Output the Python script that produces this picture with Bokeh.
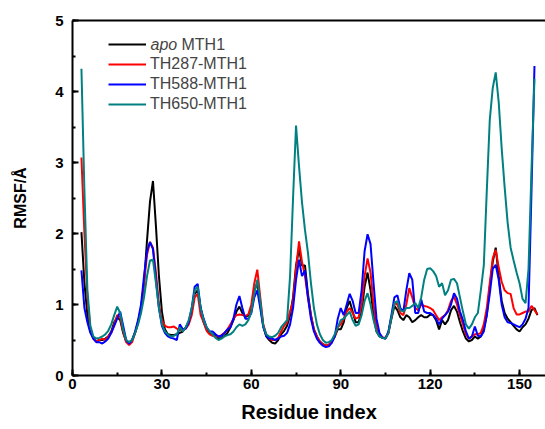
from bokeh.plotting import figure
from bokeh.models import (Range1d, SingleIntervalTicker, LinearAxis, FixedTicker,
                          Legend, LegendItem, Label)
from bokeh.embed import file_html
from bokeh.resources import INLINE

FONT = "Liberation Sans"

# ---------------- data ----------------
res_kr = list(range(3, 157))   # residues for apo and TH287
res_bt = list(range(3, 156))   # residues for TH588 and TH650

apo = [2.02, 1.3, 0.85, 0.62, 0.52, 0.48, 0.5, 0.5, 0.52, 0.55, 0.62, 0.75, 0.82, 0.78, 0.6,
       0.48, 0.46, 0.5, 0.6, 0.75, 0.95, 1.3, 1.9, 2.45, 2.74, 2.1, 1.4, 0.9, 0.65, 0.58,
       0.57, 0.57, 0.58, 0.6, 0.62, 0.68, 0.75, 0.9, 1.15, 1.2, 0.95, 0.75, 0.65, 0.6, 0.58,
       0.56, 0.52, 0.53, 0.56, 0.6, 0.68, 0.78, 0.9, 0.97, 0.88, 0.82, 0.85, 0.95, 1.2, 1.3,
       1.0, 0.7, 0.55, 0.5, 0.46, 0.45, 0.5, 0.58, 0.63, 0.7, 0.85, 1.1, 1.55, 1.78, 1.55,
       1.55, 1.15, 0.85, 0.65, 0.55, 0.48, 0.44, 0.42, 0.43, 0.48, 0.55, 0.65, 0.65, 0.75, 0.95,
       1.05, 0.9, 0.75, 0.75, 0.9, 1.25, 1.45, 1.2, 0.85, 0.62, 0.55, 0.53, 0.52, 0.6, 0.8,
       0.98, 0.92, 0.82, 0.78, 0.85, 0.82, 0.75, 0.78, 0.82, 0.85, 0.82, 0.82, 0.86, 0.85, 0.78,
       0.65, 0.78, 0.72, 0.78, 0.92, 0.98, 0.9, 0.75, 0.62, 0.52, 0.48, 0.5, 0.55, 0.52, 0.55,
       0.65, 0.85, 1.25, 1.6, 1.8, 1.4, 1.05, 0.88, 0.8, 0.75, 0.7, 0.65, 0.62, 0.68, 0.72,
       0.8, 0.92, 0.95, 0.85]

th287 = [3.07, 2.0, 1.1, 0.65, 0.52, 0.48, 0.5, 0.52, 0.5, 0.55, 0.6, 0.72, 0.85, 0.82, 0.62,
         0.47, 0.43, 0.47, 0.6, 0.75, 0.95, 1.3, 1.7, 1.88, 1.8, 1.45, 1.0, 0.78, 0.7, 0.68,
         0.68, 0.69, 0.66, 0.64, 0.64, 0.66, 0.72, 0.85, 1.1, 1.15, 0.85, 0.75, 0.63, 0.58, 0.56,
         0.55, 0.55, 0.57, 0.6, 0.65, 0.72, 0.8, 0.85, 0.86, 0.85, 0.84, 0.86, 1.0, 1.3, 1.49,
         1.1, 0.72, 0.58, 0.52, 0.5, 0.5, 0.53, 0.62, 0.7, 0.75, 0.9, 1.05, 1.5, 1.89, 1.6,
         1.4, 1.1, 0.85, 0.65, 0.55, 0.48, 0.44, 0.42, 0.43, 0.48, 0.55, 0.68, 0.72, 0.8, 0.9,
         0.95, 0.88, 0.8, 0.82, 1.0, 1.4, 1.65, 1.45, 1.0, 0.68, 0.58, 0.54, 0.53, 0.6, 0.82,
         1.02, 1.0, 0.88, 0.85, 1.0, 1.23, 1.1, 0.95, 0.92, 1.0, 0.98, 0.97, 0.95, 0.92, 0.85,
         0.78, 0.82, 0.85, 0.92, 1.05, 1.11, 1.0, 0.85, 0.72, 0.58, 0.52, 0.55, 0.58, 0.58, 0.6,
         0.72, 0.95, 1.3, 1.65, 1.77, 1.52, 1.32, 1.2, 1.16, 1.15, 0.95, 0.86, 0.86, 0.88, 0.9,
         0.9, 0.98, 0.92, 0.86]

th588 = [1.48, 0.95, 0.75, 0.6, 0.52, 0.47, 0.47, 0.45, 0.48, 0.52, 0.6, 0.7, 0.8, 0.9, 0.7,
         0.5, 0.45, 0.5, 0.62, 0.78, 1.0, 1.4, 1.75, 1.88, 1.78, 1.35, 0.95, 0.7, 0.6, 0.55,
         0.53, 0.52, 0.5, 0.72, 0.65, 0.66, 0.75, 0.95, 1.25, 1.29, 0.95, 0.8, 0.68, 0.62, 0.62,
         0.58, 0.55, 0.56, 0.6, 0.65, 0.68, 0.8, 1.0, 1.12, 0.95, 0.8, 0.8, 0.88, 1.1, 1.2,
         0.95, 0.68, 0.56, 0.52, 0.52, 0.5, 0.52, 0.55, 0.56, 0.6, 0.72, 0.95, 1.35, 1.63, 1.4,
         1.48, 1.1, 0.8, 0.62, 0.52, 0.46, 0.42, 0.4, 0.41, 0.46, 0.55, 0.8, 0.95, 0.85, 1.0,
         1.15, 1.05, 0.88, 0.88, 1.2, 1.75, 1.99, 1.85, 1.3, 0.8, 0.6, 0.53, 0.52, 0.62, 0.85,
         1.1, 1.13, 0.95, 0.9, 1.2, 1.44, 1.35, 0.88, 0.88, 1.07, 0.9, 0.88, 0.88, 0.85, 0.8,
         0.72, 0.8, 0.85, 0.9, 1.0, 1.16, 1.08, 0.9, 0.78, 0.62, 0.52, 0.55, 0.69, 0.56, 0.55,
         0.62, 0.85, 1.15, 1.5, 1.56, 1.35, 1.0, 0.82, 0.75, 0.74, 0.72, 0.7, 0.68, 0.72, 0.8,
         0.95, 2.6, 4.36]

th650 = [4.32, 2.6, 1.2, 0.7, 0.55, 0.52, 0.53, 0.55, 0.58, 0.63, 0.72, 0.85, 0.97, 0.88, 0.65,
         0.5, 0.47, 0.5, 0.6, 0.72, 0.88, 1.1, 1.4, 1.62, 1.63, 1.3, 0.95, 0.72, 0.62, 0.58,
         0.55, 0.56, 0.58, 0.68, 0.62, 0.68, 0.78, 0.95, 1.2, 1.25, 0.95, 0.78, 0.68, 0.62, 0.58,
         0.53, 0.5, 0.52, 0.55, 0.57, 0.58, 0.62, 0.68, 0.72, 0.7, 0.72, 0.78, 0.9, 1.15, 1.35,
         1.05, 0.7, 0.58, 0.55, 0.54, 0.56, 0.6, 0.68, 0.73, 0.78, 1.4, 2.5, 3.52, 2.95, 2.44,
         2.05, 1.73, 1.3, 0.95, 0.72, 0.58, 0.5, 0.46, 0.47, 0.5, 0.58, 0.68, 0.78, 0.8, 0.85,
         0.9, 0.78, 0.7, 0.72, 0.85, 1.05, 1.16, 1.0, 0.78, 0.62, 0.55, 0.53, 0.52, 0.6, 0.82,
         1.02, 1.05, 0.92, 0.9, 0.95, 0.95, 0.98, 1.02, 0.95, 1.1, 1.35, 1.5, 1.51, 1.47, 1.4,
         1.25, 1.3, 1.13, 1.2, 1.35, 1.36, 1.3, 1.1, 0.9, 0.72, 0.66, 0.72, 0.82, 0.88, 1.2,
         1.55, 2.6, 3.6, 4.05, 4.27, 3.85, 3.2, 2.65, 2.15, 1.8, 1.62, 1.45, 1.3, 1.08, 1.02,
         1.5, 2.9, 4.18]

series_names = ["apo MTH1", "TH287-MTH1", "TH588-MTH1", "TH650-MTH1"]
series_colors = ["#000000", "#ff0000", "#0000ff", "#008080"]
x_ticks_interval = 30
y_ticks_interval = 1

# ---------------- figure ----------------
p = figure(frame_width=473, frame_height=355,
           x_range=Range1d(0, 158.7), y_range=Range1d(0, 5),
           output_backend="svg", toolbar_location=None,
           min_border_left=72, min_border_right=0, min_border_top=20, min_border_bottom=0)
p.outline_line_color = None
p.xgrid.visible = False
p.ygrid.visible = False
p.background_fill_color = "white"

p.xaxis.ticker = SingleIntervalTicker(interval=x_ticks_interval, num_minor_ticks=2)
p.yaxis.ticker = SingleIntervalTicker(interval=y_ticks_interval, num_minor_ticks=2)

for ax in (p.xaxis, p.yaxis):
    ax.axis_line_width = 2
    ax.major_tick_in = 6
    ax.major_tick_out = 0
    ax.minor_tick_in = 3
    ax.minor_tick_out = 0
    ax.major_tick_line_width = 2
    ax.minor_tick_line_width = 2
    ax.major_label_text_font = FONT
    ax.major_label_text_font_size = "15px"
    ax.major_label_text_font_style = "bold"
    ax.major_label_text_color = "black"
    ax.axis_label_text_font = FONT
    ax.axis_label_text_font_style = "bold"
    ax.axis_label_text_color = "black"

p.xaxis.axis_label = "Residue index"
p.xaxis.axis_label_text_font_size = "20px"
p.xaxis.major_label_standoff = 3
p.xaxis.axis_label_standoff = 9

p.yaxis.axis_label = "RMSF/Å"
p.yaxis.axis_label_text_font_size = "16px"
p.yaxis.major_label_standoff = 9
p.yaxis.axis_label_standoff = 23

top = LinearAxis(ticker=FixedTicker(ticks=[]), major_label_text_font_size="0px",
                 axis_line_width=2, major_tick_line_color=None, minor_tick_line_color=None)
p.add_layout(top, "above")

renderers = []
for xs, ys, c in zip([res_kr, res_kr, res_bt, res_bt], [apo, th287, th588, th650], series_colors):
    renderers.append(p.line(xs, ys, line_color=c, line_width=2))

items = [LegendItem(label="", renderers=[renderers[0]])]
for name, r in zip(series_names[1:], renderers[1:]):
    items.append(LegendItem(label=name, renderers=[r]))

legend = Legend(items=items, location=(36, 261), padding=0, margin=0, spacing=0,
                glyph_width=38, glyph_height=20, label_height=20, label_standoff=4,
                label_text_font=FONT, label_text_font_size="16px",
                border_line_color=None, background_fill_alpha=0)
p.add_layout(legend)

p.add_layout(Label(x=78, y=331, x_units="screen", y_units="screen", text="apo",
                   text_font=FONT, text_font_size="16px", text_font_style="italic",
                   text_baseline="middle"))
p.add_layout(Label(x=109, y=331, x_units="screen", y_units="screen", text="MTH1",
                   text_font=FONT, text_font_size="16px", text_baseline="middle"))

open("out.html", "w").write(file_html(p, INLINE))
